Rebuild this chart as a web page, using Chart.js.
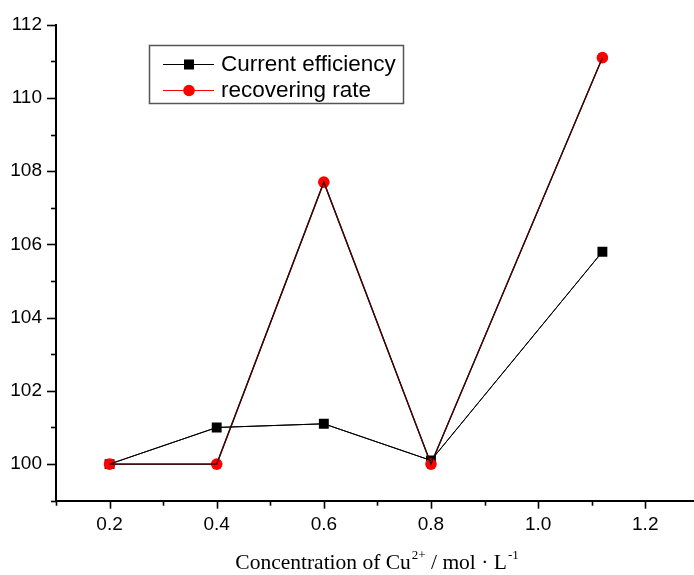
<!DOCTYPE html>
<html><head><meta charset="utf-8">
<script src="https://cdn.jsdelivr.net/npm/chart.js@4.4.1/dist/chart.umd.min.js"></script>
<style>html,body{margin:0;padding:0;background:#fff}#wrap{width:694px;height:575px}</style>
</head><body><div id="wrap"><canvas id="c" width="694" height="575"></canvas></div>
<script>
// ---- data ----
const concentrations = [0.2, 0.4, 0.6, 0.8, 1.12];
const currentEfficiency = [100.0, 101.0, 101.1, 100.1, 105.8];
const recoveringRate = [100.0, 100.0, 107.7, 100.0, 111.1];
const seriesNames = ['Current efficiency', 'recovering rate'];
const xTickValues = [0.1, 0.2, 0.3, 0.4, 0.5, 0.6, 0.7, 0.8, 0.9, 1.0, 1.1, 1.2];
const xLabeledTicks = [0.2, 0.4, 0.6, 0.8, 1.0, 1.2];
const yTickValues = [99, 100, 101, 102, 103, 104, 105, 106, 107, 108, 109, 110, 111, 112];
const yLabeledTicks = [100, 102, 104, 106, 108, 110, 112];

const SANS = "'Liberation Sans', Arial, sans-serif";
const SERIF = "'Liberation Serif', 'Times New Roman', serif";

const isLabeled = (arr, v) => arr.some(a => Math.abs(a - v) < 1e-6);

const tickMarks = {
  id: 'tickMarks',
  afterDraw(chart) {
    const ctx = chart.ctx, ca = chart.chartArea;
    const xs = chart.scales.x, ys = chart.scales.y;
    ctx.save();
    ctx.strokeStyle = '#000';
    ctx.lineWidth = 1.6;
    xs.ticks.forEach(t => {
      const px = Math.round(xs.getPixelForValue(t.value)) + 0.5;
      const len = isLabeled(xLabeledTicks, t.value) ? 8 : 5;
      ctx.beginPath(); ctx.moveTo(px, ca.bottom); ctx.lineTo(px, ca.bottom + len); ctx.stroke();
    });
    ys.ticks.forEach(t => {
      const py = Math.round(ys.getPixelForValue(t.value)) + 0.5;
      const len = isLabeled(yLabeledTicks, t.value) ? 9 : 5;
      ctx.beginPath(); ctx.moveTo(ca.left, py); ctx.lineTo(ca.left - len, py); ctx.stroke();
    });
    ctx.restore();
  }
};

const linesOnTop = {
  id: 'linesOnTop',
  afterDatasetsDraw(chart) {
    const ctx = chart.ctx;
    ctx.save();
    Chart.helpers.clipArea(ctx, chart.chartArea);
    for (let i = chart.data.datasets.length - 1; i >= 0; i--) {
      const meta = chart.getDatasetMeta(i);
      meta.dataset.draw(ctx, chart.chartArea);
    }
    Chart.helpers.unclipArea(ctx);
    ctx.restore();
  }
};

const customLegend = {
  id: 'customLegend',
  afterDraw(chart) {
    const ctx = chart.ctx;
    ctx.save();
    ctx.strokeStyle = '#555';
    ctx.lineWidth = 1.5;
    ctx.strokeRect(149.5, 45.5, 254, 58);
    const rows = [
      {y: 64, base: 71, line: '#000', marker: 'rect', color: '#000'},
      {y: 90, base: 97, line: '#ff0000', marker: 'circle', color: '#ff0000'}
    ];
    rows.forEach((r, i) => {
      ctx.strokeStyle = r.line; ctx.lineWidth = 1;
      ctx.beginPath(); ctx.moveTo(163, r.y + 0.5); ctx.lineTo(214, r.y + 0.5); ctx.stroke();
      ctx.fillStyle = r.color;
      if (r.marker === 'rect') ctx.fillRect(184, r.y - 4.5, 10, 10);
      else { ctx.beginPath(); ctx.arc(189, r.y + 0.5, 5.8, 0, Math.PI * 2); ctx.fill(); }
      ctx.fillStyle = '#000';
      ctx.font = '22.5px ' + SANS;
      ctx.textAlign = 'left'; ctx.textBaseline = 'alphabetic';
      ctx.fillText(chart.data.datasets[i].label, 221, r.base);
    });
    ctx.restore();
  }
};

const axisTitle = {
  id: 'axisTitle',
  afterDraw(chart) {
    const ctx = chart.ctx, ca = chart.chartArea;
    const parts = [
      {t: 'Concentration of Cu', sup: false},
      {t: '2+', sup: true},
      {t: ' / mol \u00B7 L', sup: false},
      {t: '-1', sup: true}
    ];
    const big = '21.5px ' + SERIF, small = '13px ' + SERIF;
    ctx.save();
    let total = 0;
    parts.forEach(p => { ctx.font = p.sup ? small : big; p.w = ctx.measureText(p.t).width + (p.sup ? 1 : 0); total += p.w; });
    let x = (ca.left + ca.right) / 2 - total / 2 + 2;
    const base = 569;
    ctx.fillStyle = '#000'; ctx.textAlign = 'left'; ctx.textBaseline = 'alphabetic';
    parts.forEach(p => {
      ctx.font = p.sup ? small : big;
      ctx.fillText(p.t, x + (p.sup ? 1 : 0), p.sup ? base - 10 : base);
      x += p.w;
    });
    ctx.restore();
  }
};

new Chart(document.getElementById('c'), {
  type: 'line',
  data: {
    datasets: [
      {
        label: seriesNames[0],
        data: concentrations.map((x, i) => ({x, y: currentEfficiency[i]})),
        borderColor: '#000', borderWidth: 1,
        pointStyle: 'rect', pointRadius: 7, pointBackgroundColor: '#000', pointBorderWidth: 0,
        tension: 0, order: 2
      },
      {
        label: seriesNames[1],
        data: concentrations.map((x, i) => ({x, y: recoveringRate[i]})),
        borderColor: '#3a0505', borderWidth: 1.3,
        pointStyle: 'circle', pointRadius: 5.8, pointBackgroundColor: '#ff0000', pointBorderWidth: 0,
        tension: 0, order: 1
      }
    ]
  },
  options: {
    responsive: false, animation: false, devicePixelRatio: 1,
    layout: {autoPadding: false, padding: {top: 24.7, right: 0, bottom: 0, left: 0}},
    plugins: {legend: {display: false}, tooltip: {enabled: false}},
    scales: {
      x: {
        type: 'linear', min: 0.1, max: 1.291,
        afterBuildTicks: s => { s.ticks = xTickValues.map(v => ({value: v})); },
        afterFit: s => { s.height = 74.3; s.paddingLeft = 0; s.paddingRight = 0; },
        grid: {display: false, drawTicks: false},
        border: {display: true, color: '#000', width: 2},
        ticks: {
          padding: 13, color: '#000', maxRotation: 0, autoSkip: false,
          font: {family: SANS, size: 19},
          callback: v => isLabeled(xLabeledTicks, v) ? v.toFixed(1) : ''
        }
      },
      y: {
        type: 'linear', min: 99, max: 112,
        afterBuildTicks: s => { s.ticks = yTickValues.map(v => ({value: v})); },
        afterFit: s => { s.width = 56; s.paddingTop = 0; s.paddingBottom = 0; },
        grid: {display: false, drawTicks: false},
        border: {display: true, color: '#000', width: 2},
        ticks: {
          padding: 14, color: '#000', autoSkip: false,
          font: {family: SANS, size: 19},
          callback: v => isLabeled(yLabeledTicks, v) ? String(v) : ''
        }
      }
    }
  },
  plugins: [tickMarks, linesOnTop, customLegend, axisTitle]
});
</script></body></html>
